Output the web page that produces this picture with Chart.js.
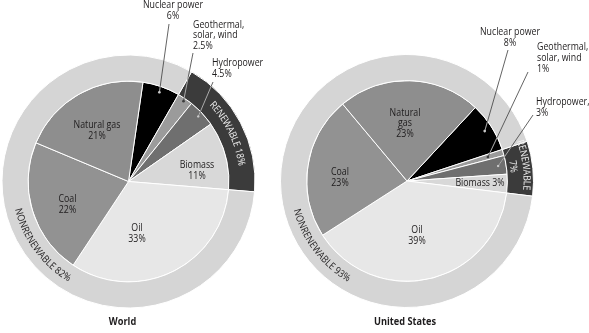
<!DOCTYPE html>
<html lang="en">
<head>
    <meta charset="UTF-8">
    <title>Energy sources - World / United States</title>
    <script src="https://cdn.jsdelivr.net/npm/chart.js"></script>
    <style>
        body { margin: 0; background: #fff; }
        .quadro { position: relative; width: 589px; height: 333px; overflow: hidden; }
        canvas { position: absolute; top: 0; }
        #world { left: 0; }
        #us { left: 270px; }
    </style>
</head>
<body>
    <div class="quadro">
        <canvas id="world" width="295" height="333"></canvas>
        <canvas id="us" width="319" height="333"></canvas>
    </div>

<script>
    // slices go clockwise starting at nuclear
    const sources = ['Nuclear power', 'Geothermal, solar, wind', 'Hydropower', 'Biomass', 'Oil', 'Coal', 'Natural gas'];
    const worldValues = [6, 2.5, 4.5, 11, 33, 22, 21];
    const usValues = [8, 1, 3, 3, 39, 23, 23];

    // outer ring: renewable, nonrenewable
    const worldRing = [18, 82];
    const usRing = [7, 93];

    const worldNames = ['Nuclear power', 'Geothermal,\nsolar, wind', 'Hydropower', 'Biomass', 'Oil', 'Coal', 'Natural gas'];
    const usNames = ['Nuclear power', 'Geothermal,\nsolar, wind', 'Hydropower,', 'Biomass', 'Oil', 'Coal', 'Natural\ngas'];
    const titles = ['World', 'United States'];

    const sliceColors = ['#000000', '#9b9b9b', '#6f6f6f', '#d8d8d8', '#e7e7e7', '#929292', '#8e8e8e'];
    const ringColors = ['#3b3b3b', '#d5d5d5'];
    const darkSlices = [0, 2]; // leader lines show light over these

    const FONT = '"Open Sans", "Liberation Sans", sans-serif';
    const SX = 0.88;
    const TXT = '#1e1c1d';

    // label placement, offsets from pie centre
    const worldLayout = [
        { dx: 44.5, dy: -171, align: 'center', lx: 40.5, ly: -157.5, lr: 0.94 },
        { dx: 64.5, dy: -146, align: 'left', lx: 64.5, ly: -128.5, lr: 0.97 },
        { dx: 83.5, dy: -113, align: 'left', lx: 84.5, ly: -99.5, lr: 0.95 },
        { dx: 68.5, dy: -11 },
        { dx: 8.5, dy: 52 },
        { dx: -61, dy: 23 },
        { dx: -31.5, dy: -51 }
    ];
    const usLayout = [
        { dx: 103, dy: -143.5, align: 'center', lx: 101, ly: -131, lr: 0.92 },
        { dx: 130, dy: -123, align: 'left', lx: 121, ly: -109, lr: 0.84 },
        { dx: 129, dy: -73.5, align: 'left', lx: 126, ly: -66, lr: 0.92 },
        { dx: 73, dy: 2, inline: true },
        { dx: 10, dy: 55 },
        { dx: -67, dy: -3 },
        { dx: -2, dy: -57.5 }
    ];

    function txt(ctx, s, x, y, align, sx) {
        ctx.save();
        ctx.translate(x, y);
        ctx.scale(sx || SX, 1);
        ctx.textAlign = align || 'center';
        ctx.textBaseline = 'middle';
        ctx.fillText(s, 0, 0);
        ctx.restore();
    }

    // text bent along a circle; outward = tops facing out, reading clockwise
    function arcText(ctx, s, cx, cy, r, ang, outward) {
        ctx.save();
        ctx.textAlign = 'center';
        ctx.textBaseline = 'middle';
        let total = ctx.measureText(s).width * SX;
        let pos = 0;
        for (let ch of s) {
            let w = ctx.measureText(ch).width * SX;
            let a = outward ? ang - total / 2 / r + (pos + w / 2) / r
                            : ang + total / 2 / r - (pos + w / 2) / r;
            ctx.save();
            ctx.translate(cx + r * Math.cos(a), cy + r * Math.sin(a));
            ctx.rotate(outward ? a + Math.PI / 2 : a - Math.PI / 2);
            ctx.scale(SX, 1);
            ctx.fillText(ch, 0, 0);
            ctx.restore();
            pos += w;
        }
        ctx.restore();
    }

    function arcPath(ctx, el) {
        ctx.moveTo(el.x + el.innerRadius * Math.cos(el.startAngle), el.y + el.innerRadius * Math.sin(el.startAngle));
        ctx.arc(el.x, el.y, el.outerRadius, el.startAngle, el.endAngle);
        ctx.arc(el.x, el.y, el.innerRadius, el.endAngle, el.startAngle, true);
        ctx.closePath();
    }

    function makeChart(id, values, ring, rotation, names, layout, ringTexts, title, titleDx) {
        const rad = d => (d - 90) * Math.PI / 180;

        const labels = {
            id: 'labels',
            afterDraw(chart) {
                const ctx = chart.ctx;
                const ringMeta = chart.getDatasetMeta(0);
                const pie = chart.getDatasetMeta(1).data;
                const cx = pie[0].x, cy = pie[0].y;
                ctx.font = '10px ' + FONT;

                values.forEach((v, i) => {
                    const L = layout[i];
                    const el = pie[i];
                    const lines = L.inline ? [names[i] + ' ' + v + '%'] : (names[i] + '\n' + v + '%').split('\n');
                    const lh = 10.8;
                    const y0 = cy + L.dy - (lines.length - 1) * lh / 2;
                    ctx.fillStyle = TXT;
                    lines.forEach((s, k) => txt(ctx, s, cx + L.dx, y0 + k * lh, L.align));

                    if (L.lx !== undefined) {
                        const mid = (el.startAngle + el.endAngle) / 2;
                        const ex = cx + el.outerRadius * L.lr * Math.cos(mid);
                        const ey = cy + el.outerRadius * L.lr * Math.sin(mid);
                        const draw = col => {
                            ctx.strokeStyle = col;
                            ctx.fillStyle = col;
                            ctx.lineWidth = 0.8;
                            ctx.beginPath();
                            ctx.moveTo(cx + L.lx, cy + L.ly);
                            ctx.lineTo(ex, ey);
                            ctx.stroke();
                            ctx.beginPath();
                            ctx.arc(ex, ey, 1.3, 0, Math.PI * 2);
                            ctx.fill();
                        };
                        draw('#3c3c3c');
                        // light where the line crosses the dark pieces
                        ctx.save();
                        ctx.beginPath();
                        arcPath(ctx, ringMeta.data[0]);
                        darkSlices.forEach(j => arcPath(ctx, pie[j]));
                        ctx.clip();
                        draw('#c8c8c8');
                        ctx.restore();
                    }
                });

                ringTexts.forEach(t => {
                    let ang;
                    if (t.onRenewable) {
                        const e = ringMeta.data[0];
                        ang = (e.startAngle + e.endAngle) / 2 + (t.shift || 0) * Math.PI / 180;
                    } else {
                        ang = rad(t.theta);
                    }
                    ctx.fillStyle = t.color;
                    ctx.font = '10px ' + FONT;
                    arcText(ctx, t.text, cx, cy, t.r, ang, t.outward);
                });

                ctx.fillStyle = TXT;
                ctx.font = 'bold 10px ' + FONT;
                txt(ctx, title, cx + titleDx, 322, 'center', 0.92);
            }
        };

        return new Chart(document.getElementById(id), {
            type: 'doughnut',
            data: {
                labels: sources,
                datasets: [
                    {
                        data: ring,
                        backgroundColor: ringColors,
                        borderColor: '#ffffff',
                        borderWidth: 1,
                        weight: 26,
                        rotation: rotation + values[0] * 3.6
                    },
                    {
                        data: values,
                        backgroundColor: sliceColors,
                        borderColor: '#ffffff',
                        borderWidth: 1,
                        weight: 100,
                        rotation: rotation
                    }
                ]
            },
            options: {
                responsive: false,
                animation: false,
                events: [],
                cutout: 0,
                layout: { padding: chartPadding[id] },
                plugins: { legend: { display: false }, tooltip: { enabled: false } }
            },
            plugins: [labels]
        });
    }

    const chartPadding = {
        world: { left: 1.5, top: 54.5, right: 39.5, bottom: 24.5 },
        us: { left: 10, top: 54, right: 55, bottom: 25 }
    };

    makeChart('world', worldValues, worldRing, 8.3, worldNames, worldLayout, [
        { text: 'RENEWABLE ' + worldRing[0] + '%', onRenewable: true, shift: 2, r: 114, outward: true, color: '#f0f0f0' },
        { text: 'NONRENEWABLE ' + worldRing[1] + '%', theta: 233.6, r: 114, outward: false, color: TXT }
    ], titles[0], -6);

    makeChart('us', usValues, usRing, 42.9, usNames, usLayout, [
        { text: 'RENEWABLE', onRenewable: true, shift: -2, r: 119.5, outward: true, color: '#f0f0f0' },
        { text: usRing[0] + '%', onRenewable: true, shift: -2, r: 107, outward: true, color: '#f0f0f0' },
        { text: 'NONRENEWABLE ' + usRing[1] + '%', theta: 233, r: 114, outward: false, color: TXT }
    ], titles[1], -2);
</script>
</body>
</html>
